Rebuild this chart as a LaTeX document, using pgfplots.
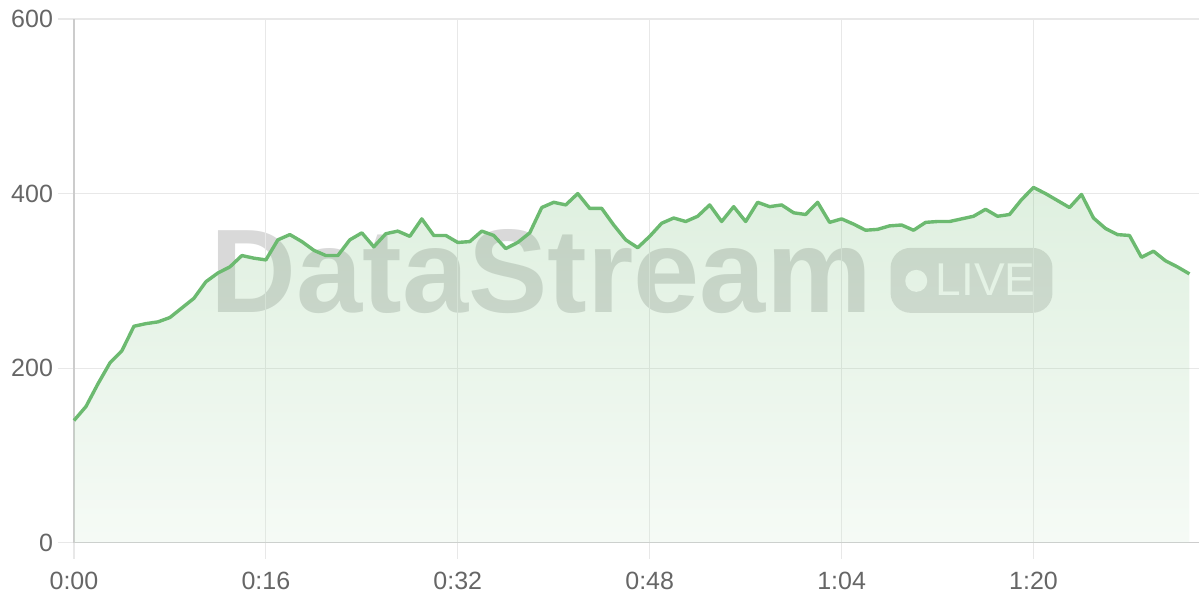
\documentclass[border=0pt]{standalone}
\usepackage{fontspec}
\setmainfont{Liberation Sans}
\usepackage{pgfplots}
\usepackage{pgfplotstable}
\pgfplotsset{compat=1.18}
\definecolor{lc}{RGB}{108,186,112}
\definecolor{tk}{RGB}{102,102,102}
\pgfplotstableread{
t v
0 140
1 156
2 182
3 206
4 220
5 248
6 251
7 253
8 258
9 269
10 280
11 299
12 309
13 316
14 329
15 326
16 324
17 347
18 353
19 345
20 335
21 329
22 329
23 347
24 355
25 339
26 354
27 357
28 351
29 371
30 352
31 352
32 344
33 345
34 357
35 352
36 337
37 344
38 355
39 384
40 390
41 387
42 400
43 383
44 383
45 364
46 347
47 338
48 351
49 366
50 372
51 368
52 374
53 387
54 368
55 385
56 368
57 390
58 385
59 387
60 378
61 376
62 390
63 367
64 371
65 365
66 358
67 359
68 363
69 364
70 358
71 367
72 368
73 368
74 371
75 374
76 382
77 374
78 376
79 393
80 407
81 400
82 392
83 384
84 399
85 372
86 360
87 353
88 352
89 327
90 334
91 323
92 316
93 308
}\datatable
\begin{document}
\begin{tikzpicture}
\path (-37pt,-28.5pt) rectangle (563pt,271.5pt);
% watermark
\node[anchor=base west, inner sep=0, font=\fontsize{59.5}{62}\selectfont\bfseries, text=black, text opacity=0.15] at (68.25pt,115pt) {DataStream};
\fill[black, opacity=0.13, rounded corners=10pt] (408.5pt,115pt) rectangle (489.5pt,147.5pt);
\fill[white] (421.35pt,131pt) circle (5.5pt);
\node[anchor=base west, inner sep=0, font=\fontsize{23}{25}\selectfont, text=white] at (431pt,123.5pt) {LIVE};
\begin{axis}[at={(0,0)}, anchor=origin, scale only axis,
  width=563pt, height=262pt,
  xmin=0, xmax=93.83, ymin=0, ymax=600,
  axis lines=left,
  axis line style={-, draw=black!20, line width=0.6pt},
  grid=major, grid style={draw=black!9, line width=0.6pt},
  tick style={draw=black!9, line width=0.6pt},
  tick align=outside, major tick length=8pt,
  xtick={0,16,32,48,64,80},
  xticklabels={0:00,0:16,0:32,0:48,1:04,1:20},
  ytick={0,200,400,600},
  yticklabels={0,200,400,600},
  ticklabel style={font=\fontsize{12.5}{14}\selectfont, text=tk},
  xticklabel style={yshift=-3pt},
  yticklabel style={xshift=1pt},
  clip=false]
\addplot[draw=none, top color=lc, bottom color=lc!30, fill opacity=0.22] table[x=t,y=v] {\datatable} \closedcycle;
\addplot[lc, line width=1.7pt, line join=round, mark=none] table[x=t,y=v] {\datatable};
\end{axis}
\end{tikzpicture}
\end{document}
